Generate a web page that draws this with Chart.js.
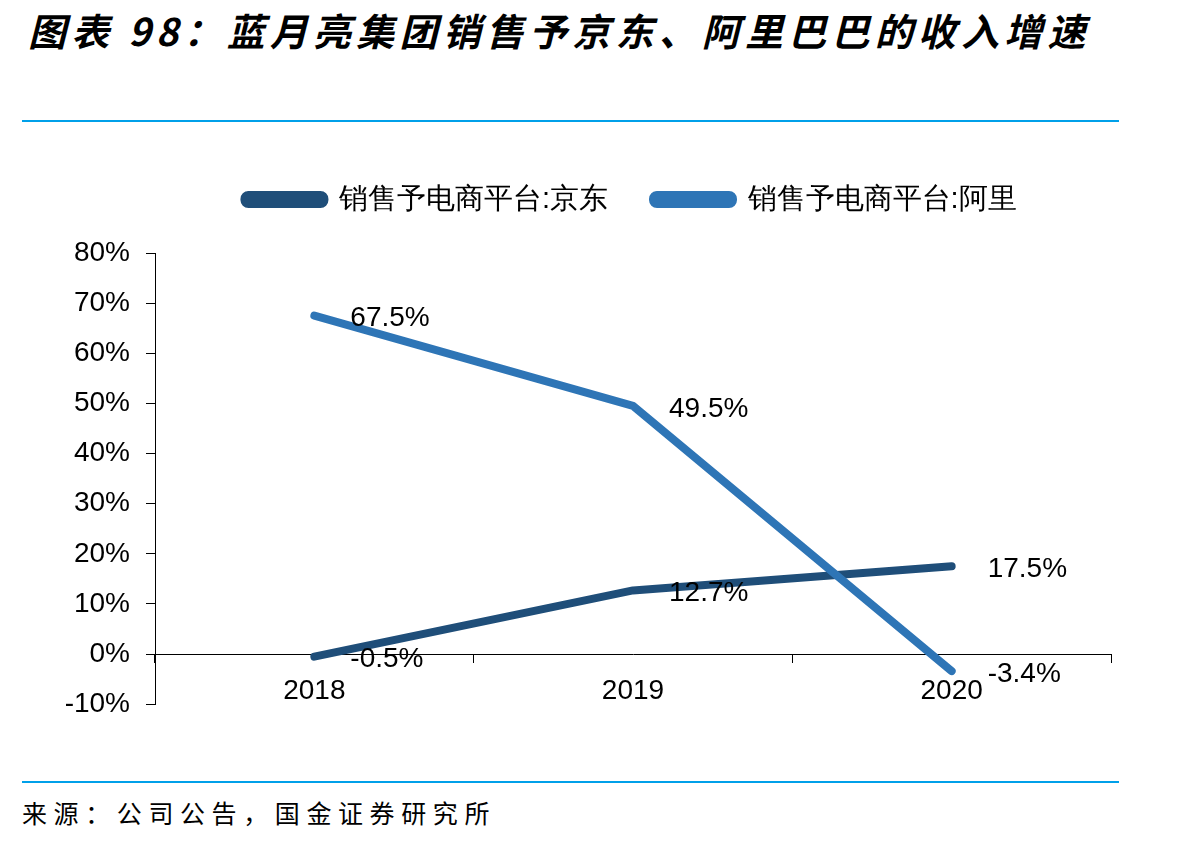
<!DOCTYPE html>
<html>
<head>
<meta charset="utf-8">
<script src="https://cdn.jsdelivr.net/npm/chart.js@4/dist/chart.umd.min.js"></script>
<style>
  body { margin: 0; background: #fff; width: 1203px; height: 843px; position: relative; overflow: hidden; }
  #title { position: absolute; left: 28px; top: 2px; font-family: "Noto Sans CJK SC", sans-serif; font-weight: bold; font-style: italic; font-size: 38px; letter-spacing: 5.2px; color: #000; white-space: nowrap; }
  .rule { position: absolute; left: 22px; width: 1097px; height: 2px; background: #00a0e9; }
  #source { position: absolute; left: 22px; top: 794px; font-family: "Noto Sans CJK SC", sans-serif; font-size: 25px; letter-spacing: 6.6px; color: #000; white-space: nowrap; }
  #wrap { position: absolute; left: 0; top: 137px; width: 1203px; height: 600px; }
</style>
</head>
<body>
<div id="title">图表 98：蓝月亮集团销售予京东、阿里巴巴的收入增速</div>
<div class="rule" style="top:120px"></div>
<div id="wrap"><canvas id="chart"></canvas></div>
<div class="rule" style="top:781px"></div>
<div id="source">来源：公司公告，国金证券研究所</div>
<script>
const years = ['2018', '2019', '2020'];
const jdName = '销售予电商平台:京东';
const aliName = '销售予电商平台:阿里';
const jdGrowth = [-0.5, 12.7, 17.5];
const aliGrowth = [67.5, 49.5, -3.4];
const yMin = -10;
const yMax = 80;
const yStep = 10;

const font = 'Liberation Sans, Arial, sans-serif';

// value labels to the right of each point, like Excel's "right" position
const valueLabels = {
    id: 'valueLabels',
    afterDatasetsDraw(chart) {
        const ctx = chart.ctx;
        ctx.save();
        ctx.font = '28px ' + font;
        ctx.fillStyle = '#000';
        ctx.textAlign = 'left';
        ctx.textBaseline = 'middle';
        chart.data.datasets.forEach((ds, i) => {
            chart.getDatasetMeta(i).data.forEach((pt, j) => {
                ctx.fillText(ds.data[j].toFixed(1) + '%', pt.x + 36, pt.y + 3);
            });
        });
        ctx.restore();
    }
};

// extra room under the legend, and legend centred a bit to the right
const legendGap = {
    id: 'legendGap',
    beforeInit(chart) {
        const origFit = chart.legend.fit;
        chart.legend.fit = function () {
            origFit.call(this);
            this.height += 29;
        };
    },
    afterLayout(chart) {
        chart.legend.left += 150;
    }
};

const ctx = document.getElementById('chart').getContext('2d');
const chart = new Chart(ctx, {
    type: 'line',
    data: {
        labels: years,
        datasets: [
            {
                label: jdName,
                data: jdGrowth,
                borderColor: '#1f4e79',
                backgroundColor: '#1f4e79',
                borderWidth: 8,
                borderCapStyle: 'round',
                borderJoinStyle: 'round',
                pointRadius: 0,
                order: 1
            },
            {
                label: aliName,
                data: aliGrowth,
                borderColor: '#2e75b6',
                backgroundColor: '#2e75b6',
                borderWidth: 8,
                borderCapStyle: 'round',
                borderJoinStyle: 'round',
                pointRadius: 0,
                order: 0
            }
        ]
    },
    options: {
        responsive: true,
        maintainAspectRatio: false,
        animation: false,
        layout: { padding: { left: 0, right: 92, top: 3, bottom: 31 } },
        plugins: {
            legend: {
                position: 'top',
                labels: {
                    font: { family: font, size: 29 },
                    color: '#000',
                    boxWidth: 80,
                    boxHeight: 9,
                    useBorderRadius: true,
                    borderRadius: 4,
                    padding: 45,
                    sort: (a, b) => a.datasetIndex - b.datasetIndex
                }
            },
            tooltip: { enabled: false }
        },
        scales: {
            x: {
                position: { y: 0 },
                offset: true,
                grid: { drawOnChartArea: false, offset: true, tickLength: 8, color: '#000' },
                border: { color: '#000', width: 1 },
                ticks: { font: { family: font, size: 28 }, color: '#000', padding: 12 }
            },
            y: {
                min: yMin,
                max: yMax,
                afterFit: scale => { scale.width = 155; },
                grid: { drawOnChartArea: false, tickLength: 9, color: '#000' },
                border: { color: '#000', width: 1 },
                ticks: {
                    stepSize: yStep,
                    font: { family: font, size: 28 },
                    color: '#000',
                    padding: 16,
                    callback: v => v + '%'
                }
            }
        }
    },
    plugins: [valueLabels, legendGap]
});
</script>
</body>
</html>
